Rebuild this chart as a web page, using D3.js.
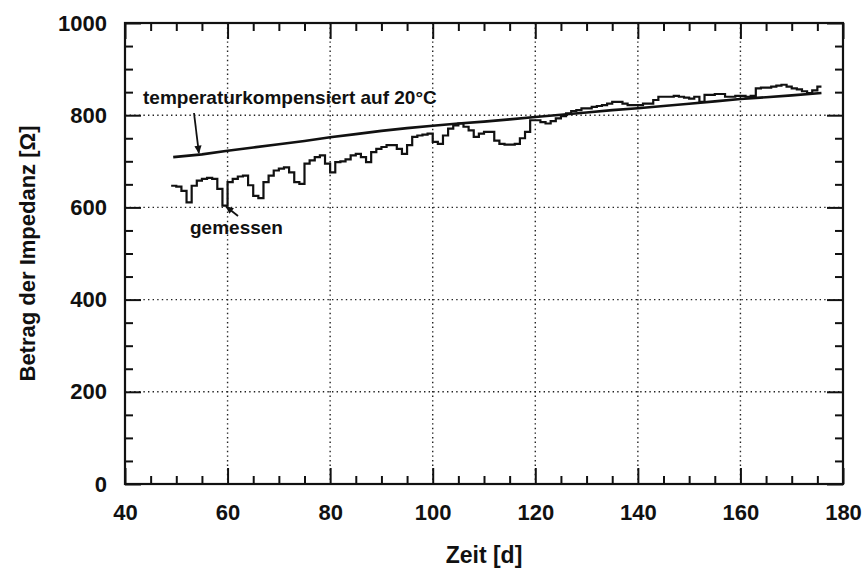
<!DOCTYPE html>
<html>
<head>
<meta charset="utf-8">
<script src="https://cdn.jsdelivr.net/npm/d3@7/dist/d3.min.js"></script>
<style>
  html, body { margin: 0; padding: 0; background: #fff; }
  svg { display: block; }
  text { font-family: "Liberation Sans", Arial, Helvetica, sans-serif; fill: #111; }
</style>
</head>
<body>
<svg id="chart" width="864" height="574"></svg>
<script>
// Axis ticks
const xMajorTicks = [40, 60, 80, 100, 120, 140, 160, 180];
const yMajorTicks = [0, 200, 400, 600, 800, 1000];
const xGrid = [60, 80, 100, 120, 140, 160];
const yGrid = [200, 400, 600, 800];

// Measured impedance (Ω), one value per day starting at day 49
const measuredStartDay = 49;
const measuredEndDay = 175.8;
const measured = [
  647, 645, 636, 611, 647, 658, 662, 664, 662, 640,
  604, 655, 662, 667, 669, 648, 625, 620, 655, 669,
  680, 684, 687, 676, 655, 651, 695, 702, 709, 713,
  695, 676, 698, 700, 704, 713, 716, 709, 698, 720,
  727, 731, 735, 735, 727, 716, 735, 753, 756, 758,
  760, 742, 738, 756, 771, 778, 782, 775, 767, 753,
  760, 764, 764, 745, 738, 736, 736, 738, 750, 764,
  789, 789, 785, 782, 787, 793, 798, 804, 809, 811,
  815, 815, 818, 820, 822, 825, 829, 829, 825, 822,
  822, 822, 825, 825, 833, 840, 840, 840, 842, 840,
  838, 836, 840, 829, 844, 844, 846, 846, 840, 840,
  842, 842, 840, 842, 858, 860, 860, 862, 864, 866,
  862, 858, 856, 852, 848, 854, 862
];

// Impedance compensated to 20 °C
const compDays = [49.4, 55, 60, 65, 70, 75, 80, 85, 90, 95, 100, 105, 110,
                  115, 120, 125, 130, 135, 140, 145, 150, 155, 160, 165, 170, 175.8];
const compValues = [709, 715, 723, 730, 737, 744, 752, 759, 766, 772, 777, 782, 786,
                    791, 796, 801, 806, 811, 815, 820, 825, 830, 835, 839, 843, 848];

const svg = d3.select("#chart");
const plot = { left: 125, right: 843, top: 23, bottom: 484 };

const x = d3.scaleLinear().domain([40, 180]).range([plot.left, plot.right]);
const y = d3.scaleLinear().domain([0, 1000]).range([plot.bottom, plot.top]);

// dotted grid
const grid = svg.append("g").attr("stroke", "#222").attr("stroke-width", 1.4)
  .attr("stroke-dasharray", "1.4,3.2");
grid.selectAll("line.gx").data(xGrid).join("line")
  .attr("x1", d => x(d)).attr("x2", d => x(d))
  .attr("y1", plot.top).attr("y2", plot.bottom);
grid.selectAll("line.gy").data(yGrid).join("line")
  .attr("x1", plot.left).attr("x2", plot.right)
  .attr("y1", d => y(d)).attr("y2", d => y(d));

// axes with inward ticks on all four sides
function styleAxis(sel) {
  sel.select(".domain").remove();
  sel.selectAll(".tick line").attr("stroke", "#111").attr("stroke-width", 2);
  sel.selectAll(".tick text").style("font-size", "22px").style("font-weight", "bold");
}
const xMinor = d3.range(40, 181, 5).filter(v => v % 20 !== 0);
const yMinor = d3.range(0, 1001, 50).filter(v => v % 200 !== 0);

svg.append("g").attr("transform", `translate(0,${plot.bottom})`)
  .call(d3.axisBottom(x).tickValues(xMajorTicks).tickSize(-16).tickPadding(20).tickFormat(d3.format("d")))
  .call(styleAxis);
svg.append("g").attr("transform", `translate(0,${plot.bottom})`)
  .call(d3.axisBottom(x).tickValues(xMinor).tickSize(-8).tickFormat(""))
  .call(styleAxis);
svg.append("g").attr("transform", `translate(0,${plot.top})`)
  .call(d3.axisTop(x).tickValues(xMajorTicks).tickSize(-16).tickFormat(""))
  .call(styleAxis);
svg.append("g").attr("transform", `translate(0,${plot.top})`)
  .call(d3.axisTop(x).tickValues(xMinor).tickSize(-8).tickFormat(""))
  .call(styleAxis);

svg.append("g").attr("transform", `translate(${plot.left},0)`)
  .call(d3.axisLeft(y).tickValues(yMajorTicks).tickSize(-16).tickPadding(18).tickFormat(d3.format("d")))
  .call(styleAxis);
svg.append("g").attr("transform", `translate(${plot.left},0)`)
  .call(d3.axisLeft(y).tickValues(yMinor).tickSize(-8).tickFormat(""))
  .call(styleAxis);
svg.append("g").attr("transform", `translate(${plot.right},0)`)
  .call(d3.axisRight(y).tickValues(yMajorTicks).tickSize(-16).tickFormat(""))
  .call(styleAxis);
svg.append("g").attr("transform", `translate(${plot.right},0)`)
  .call(d3.axisRight(y).tickValues(yMinor).tickSize(-8).tickFormat(""))
  .call(styleAxis);

// frame
svg.append("rect")
  .attr("x", plot.left).attr("y", plot.top)
  .attr("width", plot.right - plot.left).attr("height", plot.bottom - plot.top)
  .attr("fill", "none").attr("stroke", "#111").attr("stroke-width", 2.2);

// measured series as a step line
const measuredPts = measured.map((v, i) => [measuredStartDay + i, v]);
measuredPts.push([measuredEndDay, measured[measured.length - 1]]);
const stepLine = d3.line().x(d => x(d[0])).y(d => y(d[1])).curve(d3.curveStepAfter);
svg.append("path").datum(measuredPts)
  .attr("d", stepLine).attr("fill", "none")
  .attr("stroke", "#111").attr("stroke-width", 2.2);

// compensated series
const compLine = d3.line().x(d => x(d[0])).y(d => y(d[1]));
svg.append("path").datum(compDays.map((d, i) => [d, compValues[i]]))
  .attr("d", compLine).attr("fill", "none")
  .attr("stroke", "#111").attr("stroke-width", 2.6);

// annotations with arrows
svg.append("defs").append("marker").attr("id", "arrowhead")
  .attr("viewBox", "0 0 10 10").attr("refX", 9).attr("refY", 5)
  .attr("markerWidth", 12).attr("markerHeight", 8).attr("orient", "auto")
  .attr("markerUnits", "userSpaceOnUse")
  .append("path").attr("d", "M0,0.5 L10,5 L0,9.5 Z").attr("fill", "#111");

svg.append("text").attr("x", 143).attr("y", 104)
  .style("font-size", "19px").style("font-weight", "bold")
  .text("temperaturkompensiert auf 20°C");
svg.append("line")
  .attr("x1", 194).attr("y1", 113).attr("x2", x(54.4)).attr("y2", y(714) - 2)
  .attr("stroke", "#111").attr("stroke-width", 1.8).attr("marker-end", "url(#arrowhead)");

svg.append("text").attr("x", 190).attr("y", 234)
  .style("font-size", "19px").style("font-weight", "bold")
  .text("gemessen");
svg.append("line")
  .attr("x1", 238).attr("y1", 216).attr("x2", x(59.7)).attr("y2", y(604) + 1)
  .attr("stroke", "#111").attr("stroke-width", 1.8).attr("marker-end", "url(#arrowhead)");

// axis titles
svg.append("text").attr("x", (plot.left + plot.right) / 2).attr("y", 563)
  .attr("text-anchor", "middle").style("font-size", "23px").style("font-weight", "bold")
  .text("Zeit [d]");
svg.append("text")
  .attr("transform", `translate(35,${(plot.top + plot.bottom) / 2}) rotate(-90)`)
  .attr("text-anchor", "middle").style("font-size", "22px").style("font-weight", "bold")
  .text("Betrag der Impedanz [Ω]");
</script>
</body>
</html>
